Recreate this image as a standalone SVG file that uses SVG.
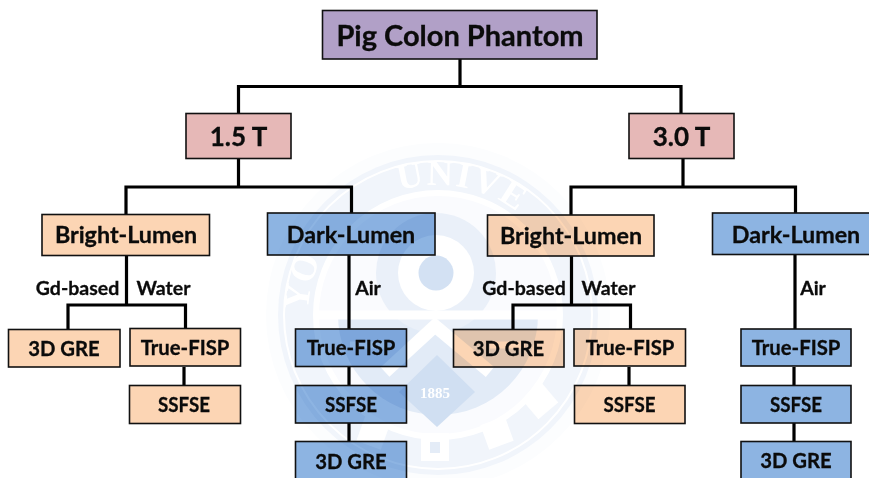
<svg xmlns="http://www.w3.org/2000/svg" width="869" height="478" viewBox="0 0 869 478">
<style>
text{font-family:"Lato","Carlito","Liberation Sans",sans-serif;font-weight:700;fill:#0b0b0b;text-anchor:middle;stroke:#0b0b0b;stroke-width:.3}
.n rect{stroke:#111;stroke-width:1.6}
.p rect{fill:#B1A0C7}.k rect{fill:#E6B8B7}.o rect{fill:#FCD5B4}.b rect{fill:#8DB4E2}
.big{font-size:29px}.t{font-size:26px}.m{font-size:23.300px}.s{font-size:20.300px}.l{font-size:19.500px}
#connectors path{fill:none;stroke:#000;stroke-width:3.2}
#watermark{mix-blend-mode:multiply}
#watermark text{font-family:"Liberation Serif",serif;stroke:none;fill:#fff;text-anchor:start}
</style>
<rect width="869" height="478" fill="#fff"/>
<g id="connectors">
<path d="M460 59V86.5M238.500 113.500V86.500H681V113.500"/>
<path d="M238.500 158.500V187M126 214V187H351.500V213"/>
<path d="M683 158.500V187M571 215V187H795.500V213"/>
<path d="M126.500 255V305M68 329.500V305H185.500V329"/>
<path d="M184 367V385.500"/>
<path d="M571.500 256V305M513 329.500V305H630.500V329"/>
<path d="M629 367V385.500"/>
<path d="M349 255V329M349 367V385.500M349 423V441.500"/>
<path d="M795 255V329M794 367V385.500M794 423V441.500"/>
</g>
<g id="root" class="n p"><rect x="322.500" y="10.500" width="274.500" height="48.500"/><text class="big" x="460" y="45.500">Pig Colon Phantom</text></g>
<g id="t15" class="n k"><rect x="186" y="113.500" width="105" height="45"/><text class="t" x="238.500" y="146">1.5 T</text></g>
<g id="t30" class="n k"><rect x="629" y="113.500" width="105" height="45"/><text class="t" x="681.500" y="146">3.0 T</text></g>
<g id="bl1" class="n o"><rect x="42" y="214.500" width="167.500" height="41"/><text class="m" x="126" y="243">Bright-Lumen</text></g>
<g id="dl1" class="n b"><rect x="267.500" y="213" width="167.500" height="42"/><text class="m" x="351" y="243">Dark-Lumen</text></g>
<g id="bl2" class="n o"><rect x="487.500" y="215" width="166.500" height="41"/><text class="m" x="571" y="244">Bright-Lumen</text></g>
<g id="dl2" class="n b"><rect x="712.500" y="213" width="167" height="41.500"/><text class="m" x="796" y="243">Dark-Lumen</text></g>
<g id="gre1" class="n o"><rect x="8.500" y="329.500" width="111.500" height="37.500"/><text class="s" x="64" y="356">3D GRE</text></g>
<g id="fisp1" class="n o"><rect x="130" y="328.500" width="110.500" height="37.500"/><text class="s" x="185" y="355">True-FISP</text></g>
<g id="ss1" class="n o"><rect x="129.500" y="385.500" width="111" height="38"/><text class="s" x="184" y="412" textLength="52" lengthAdjust="spacingAndGlyphs">SSFSE</text></g>
<g id="fisp2" class="n b"><rect x="295.500" y="329" width="111" height="37.500"/><text class="s" x="351" y="355">True-FISP</text></g>
<g id="ss2" class="n b"><rect x="295.500" y="385.500" width="111" height="37.500"/><text class="s" x="351" y="412" textLength="52" lengthAdjust="spacingAndGlyphs">SSFSE</text></g>
<g id="gre2" class="n b"><rect x="295.500" y="441.500" width="111" height="45"/><text class="s" x="351" y="469">3D GRE</text></g>
<g id="gre3" class="n o"><rect x="453.500" y="329.500" width="110.500" height="37.500"/><text class="s" x="508.500" y="356">3D GRE</text></g>
<g id="fisp3" class="n o"><rect x="574" y="329" width="111.500" height="37"/><text class="s" x="630" y="355">True-FISP</text></g>
<g id="ss3" class="n o"><rect x="574.500" y="385.500" width="110.500" height="38"/><text class="s" x="629.500" y="412" textLength="52" lengthAdjust="spacingAndGlyphs">SSFSE</text></g>
<g id="fisp4" class="n b"><rect x="741" y="329" width="110" height="37"/><text class="s" x="796" y="355">True-FISP</text></g>
<g id="ss4" class="n b"><rect x="741" y="385.500" width="110" height="37.500"/><text class="s" x="796" y="412" textLength="52" lengthAdjust="spacingAndGlyphs">SSFSE</text></g>
<g id="gre4" class="n b"><rect x="741" y="441.500" width="110" height="45"/><text class="s" x="796" y="468">3D GRE</text></g>
<g id="labels">
<text class="l" x="77.500" y="294.500">Gd-based</text><text class="l" x="163.500" y="294.500">Water</text><text class="l" x="368" y="294.500">Air</text>
<text class="l" x="524" y="294.500">Gd-based</text><text class="l" x="608.500" y="294.500">Water</text><text class="l" x="813" y="294.500">Air</text>
</g>
<g id="watermark">
<defs><path id="arc" d="M308 315A130 130 0 0 1 568 315"/></defs>
<circle cx="438" cy="315" r="172" fill="#FCFDFE"/>
<circle cx="438" cy="315" r="160" fill="#F1F5FB"/>
<circle cx="438" cy="315" r="154" fill="none" stroke="#fff" stroke-width="2"/>
<text font-size="36"><textPath href="#arc" startOffset="4">YO</textPath></text>
<text font-size="36"><textPath href="#arc" startOffset="165" letter-spacing="2">UNIVE</textPath></text>
<circle cx="438" cy="315" r="122" fill="#FAFBFE" stroke="#fff" stroke-width="6"/>
<path d="M338 315A100 100 0 0 0 538 315Z" fill="#E2EBF7"/>
<circle cx="436" cy="273" r="60" fill="#EAF0F9"/>
<path d="M318 315H558" stroke="#fff" stroke-width="9" fill="none"/>
<path d="M385 372L435 326L490 372" stroke="#fff" stroke-width="13" fill="none"/>
<path d="M350 345H385M490 345H525" stroke="#fff" stroke-width="7" fill="none"/>
<circle cx="436" cy="273" r="38" fill="#fff"/>
<circle cx="436" cy="273" r="17.500" fill="#D3E1F3"/>
<path d="M437 355L475 392L437 427L399 392Z" fill="#D0DFF2"/>
<text x="420" y="398" font-size="15">1885</text>
<g fill="#fff">
<rect x="421" y="433" width="28" height="28"/>
<rect x="484" y="420" width="26" height="26" transform="rotate(-20 497 433)"/>
<rect x="527" y="388" width="26" height="26" transform="rotate(-40 540 401)"/>
<rect x="360" y="420" width="26" height="26" transform="rotate(20 373 433)"/>
</g>
<rect x="430" y="442" width="10" height="11" fill="#E4ECF7"/>
</g>
</svg>
